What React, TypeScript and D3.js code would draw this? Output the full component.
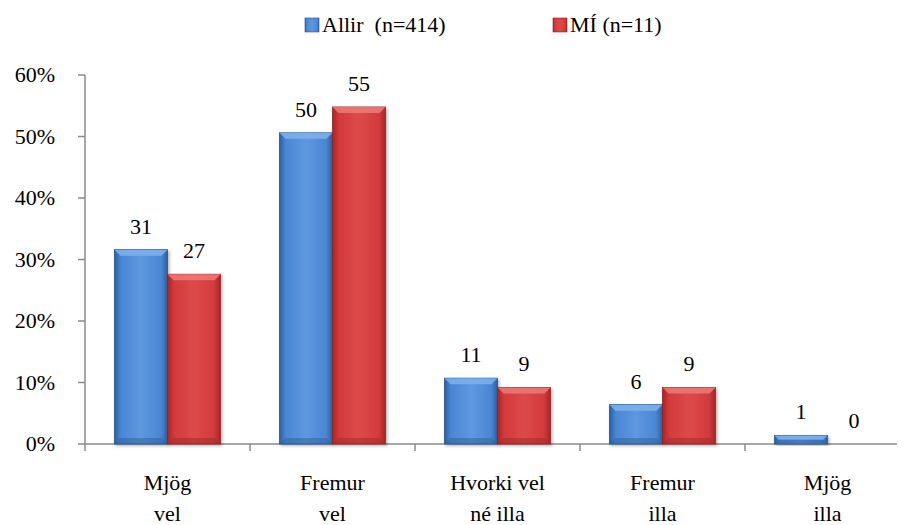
import React from 'react';
import * as d3 from 'd3';

const categories = ['Mjög vel', 'Fremur vel', 'Hvorki vel né illa', 'Fremur illa', 'Mjög illa'];
const categoryLines = [['Mjög', 'vel'], ['Fremur', 'vel'], ['Hvorki vel', 'né illa'], ['Fremur', 'illa'], ['Mjög', 'illa']];
const seriesNames = ['Allir  (n=414)', 'MÍ (n=11)'];
const allirValues = [31.6, 50.6, 10.7, 6.4, 1.4];
const miValues = [27.6, 54.8, 9.2, 9.2, 0];
const allirLabels = ['31', '50', '11', '6', '1'];
const miLabels = ['27', '55', '9', '9', '0'];
const yTicks = [0, 10, 20, 30, 40, 50, 60];

const W = 905;
const H = 525;
const AXIS = '#8a8a8a';

const palettes = [
    { id: 'gBlue', edge: '#2d5f9e', mid: '#4a86d4', light: '#5e98e0', top: '#7fb2ec', border: '#2a5488' },
    { id: 'gRed', edge: '#a52628', mid: '#d23a3c', light: '#dd4a4a', top: '#ee7a78', border: '#8c2426' },
];

const Label = ({ x, y, anchor, dy, children }: { x: number; y: number; anchor?: string; dy?: string; children: React.ReactNode }) => (
    <text x={x} y={y} dy={dy} textAnchor={anchor} style={{ fontFamily: `'Liberation Serif'`, fontSize: 22, whiteSpace: 'pre' }}>{children}</text>
);

export default function App() {
    const left = 85;
    const step = 165;
    const x0 = d3.scaleBand<string>()
        .domain(categories)
        .range([left, left + step * categories.length])
        .paddingInner(0.357)
        .paddingOuter(0.1785);
    const x1 = d3.scaleBand<number>().domain([0, 1]).range([0, x0.bandwidth()]);
    const y = d3.scaleLinear().domain([0, 60]).range([444, 75]);
    const bw = x1.bandwidth();

    const series = [
        { values: allirValues, labels: allirLabels, pal: palettes[0] },
        { values: miValues, labels: miLabels, pal: palettes[1] },
    ];
    const legendX = [305, 553];

    return (
        <svg width={W} height={H} style={{ display: 'block', marginLeft: -8, marginTop: -8 }}>
            <defs>
                {palettes.map(p => (
                    <linearGradient key={p.id} id={p.id} x1={0} x2={1} y1={0} y2={0}>
                        <stop offset="0%" stopColor={p.edge} />
                        <stop offset="12%" stopColor={p.mid} />
                        <stop offset="50%" stopColor={p.light} />
                        <stop offset="88%" stopColor={p.mid} />
                        <stop offset="100%" stopColor={p.edge} />
                    </linearGradient>
                ))}
                <filter id="shadow" x="-10%" y="-10%" width="130%" height="130%">
                    <feDropShadow dx={1.5} dy={1.5} stdDeviation={1.5} floodColor="#000" floodOpacity={0.3} />
                </filter>
            </defs>

            {/* axes */}
            <line x1={left} x2={left} y1={y(60)} y2={y(0)} stroke={AXIS} strokeWidth={1.5} />
            <line x1={left} x2={W} y1={y(0)} y2={y(0)} stroke={AXIS} strokeWidth={1.5} />
            {yTicks.map(t => (
                <g key={t}>
                    <line x1={left - 7} x2={left} y1={y(t)} y2={y(t)} stroke={AXIS} strokeWidth={1.5} />
                    <Label x={55} y={y(t)} dy="0.33em" anchor="end">{`${t}%`}</Label>
                </g>
            ))}
            {d3.range(categories.length + 1).map(i => (
                <line key={i} x1={left + i * step} x2={left + i * step} y1={y(0)} y2={y(0) + 7} stroke={AXIS} strokeWidth={1.5} />
            ))}

            {/* bars */}
            {series.map((s, si) => categories.map((c, ci) => {
                const bx = (x0(c) ?? 0) + (x1(si) ?? 0);
                const top = y(s.values[ci]);
                const h = y(0) - top;
                const bev = Math.min(6, h / 2);
                const base = y(0);
                return (
                    <g key={`${si}-${ci}`}>
                        {h > 0.5 && (
                            <g filter="url(#shadow)">
                                <rect x={bx} y={top} width={bw} height={h} fill={`url(#${s.pal.id})`} stroke={s.pal.border} strokeWidth={0.8} />
                                <path d={`M${bx},${top} L${bx + bw},${top} L${bx + bw - bev},${top + bev} L${bx + bev},${top + bev} Z`} fill={s.pal.top} opacity={0.85} />
                                <path d={`M${bx},${base} L${bx + bw},${base} L${bx + bw - bev},${base - bev} L${bx + bev},${base - bev} Z`} fill={s.pal.edge} opacity={0.5} />
                            </g>
                        )}
                        <Label x={bx + bw / 2} y={top - 16} anchor="middle">{s.labels[ci]}</Label>
                    </g>
                );
            }))}

            {/* category labels */}
            {categories.map((c, ci) => categoryLines[ci].map((line, li) => (
                <Label key={`${ci}-${li}`} x={(x0(c) ?? 0) + x0.bandwidth() / 2} y={490 + li * 31} anchor="middle">{line}</Label>
            )))}

            {/* legend */}
            {seriesNames.map((name, i) => (
                <g key={name}>
                    <rect x={legendX[i]} y={18} width={14} height={14} fill={`url(#${palettes[i].id})`} stroke={palettes[i].border} strokeWidth={0.6} />
                    <Label x={legendX[i] + 17} y={32}>{name}</Label>
                </g>
            ))}
        </svg>
    );
}
